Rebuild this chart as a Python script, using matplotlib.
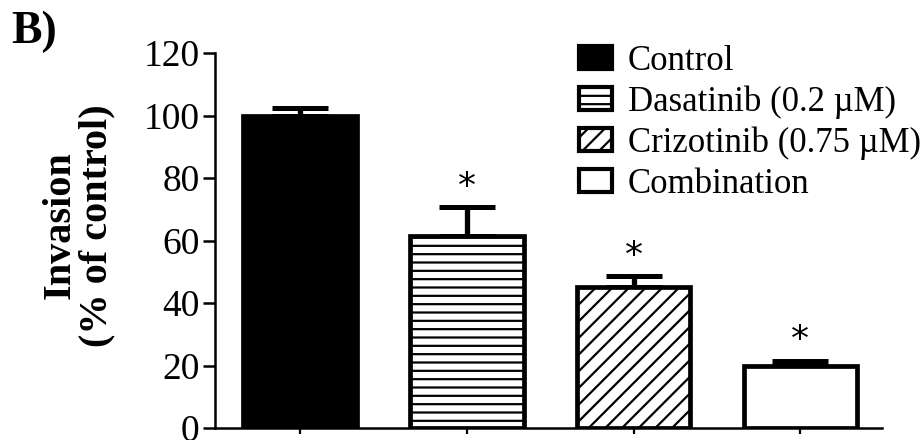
import numpy as np
import matplotlib.pyplot as plt
from matplotlib.patches import Patch

plt.rcParams["font.family"] = ["Liberation Serif", "DejaVu Serif"]
plt.rcParams["hatch.linewidth"] = 1.6

# data
groups = ["Control", "Dasatinib (0.2 \u00b5M)", "Crizotinib (0.75 \u00b5M)", "Combination"]
means = [100.0, 61.5, 45.0, 20.0]
sem = [2.3, 9.2, 3.6, 1.6]
signif = ["", "*", "*", "*"]
yticks = [0, 20, 40, 60, 80, 100, 120]

faces = ["black", "white", "white", "white"]
hatches = [None, "--", "//", None]


def main():
    fig = plt.figure(figsize=(9.24, 4.4), dpi=100)
    ax = fig.add_axes([0.2327, 0.0273, 0.722, 0.852])

    x = np.arange(len(groups))
    bars = ax.bar(x, means, width=0.68, color=faces, edgecolor="black",
                  linewidth=3.4, zorder=2)
    for b, h in zip(bars, hatches):
        if h:
            b.set_hatch(h)

    ax.errorbar(x, means, yerr=[np.zeros(len(sem)), sem], fmt="none",
                ecolor="black", elinewidth=3.8, capsize=20, capthick=3.6,
                zorder=1)

    for xi, m, s, star in zip(x, means, sem, signif):
        if star:
            ax.text(xi, m + s + 1.0, star, ha="center", va="bottom",
                    fontsize=26, family="DejaVu Sans")

    ax.set_xlim(-0.51, 3.49)
    ax.set_ylim(0, 120)
    ax.set_yticks(yticks)
    ax.set_xticks(x)
    ax.set_xticklabels([])
    ax.tick_params(axis="y", direction="out", length=9, width=1.8,
                   labelsize=27, pad=2)
    ax.tick_params(axis="x", direction="out", length=4, width=1.6)
    for sp in ["top", "right"]:
        ax.spines[sp].set_visible(False)
    for sp in ["left", "bottom"]:
        ax.spines[sp].set_linewidth(1.8)

    ax.set_ylabel("Invasion\n(% of control)", fontsize=29, fontweight="bold",
                  linespacing=1.0)
    ax.yaxis.set_label_coords(-0.149, 0.54)

    handles = [Patch(facecolor=f, edgecolor="black", linewidth=3.0, hatch=h)
               for f, h in zip(faces, hatches)]
    fig.legend(handles, groups, loc="upper left",
               bbox_to_anchor=(0.612, 0.93), frameon=False, fontsize=25,
               handlelength=0.95, handleheight=0.65, handletextpad=0.45,
               labelspacing=0.22, borderaxespad=0)

    fig.text(0.012, 0.975, "B)", fontsize=33, fontweight="bold",
             ha="left", va="top")

    fig.savefig("out.png", dpi=100)


if __name__ == "__main__":
    main()
